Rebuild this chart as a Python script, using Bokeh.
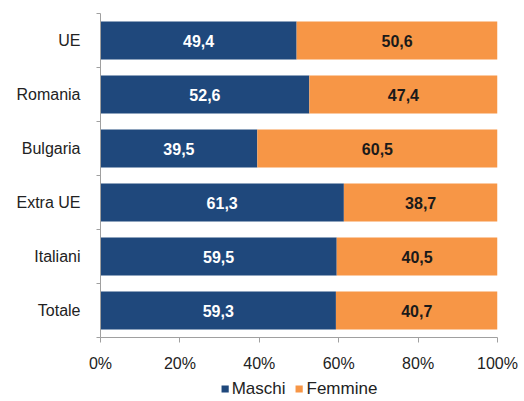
from bokeh.plotting import figure
from bokeh.layouts import column
from bokeh.models import (ColumnDataSource, Range1d, FixedTicker, Legend, LegendItem,
                          PrintfTickFormatter)
from bokeh.core.properties import value
from bokeh.embed import file_html
from bokeh.resources import INLINE

categories = ["UE", "Romania", "Bulgaria", "Extra UE", "Italiani", "Totale"]
maschi = [49.4, 52.6, 39.5, 61.3, 59.5, 59.3]
femmine = [50.6, 47.4, 60.5, 38.7, 40.5, 40.7]
x_ticks = [0, 20, 40, 60, 80, 100]
series = ["Maschi", "Femmine"]

NAVY = "#1f487c"
ORANGE = "#f79646"
FONT = "Liberation Sans"

n = len(categories)
ypos = [n - i - 0.5 for i in range(n)]
fmt = lambda v: f"{v:.1f}".replace(".", ",")

src = ColumnDataSource(dict(
    y=ypos,
    mend=maschi,
    fend=[a + b for a, b in zip(maschi, femmine)],
    mmid=[a / 2 for a in maschi],
    fmid=[a + b / 2 for a, b in zip(maschi, femmine)],
    mlab=[fmt(v) for v in maschi],
    flab=[fmt(v) for v in femmine],
    zero=[0] * n,
))

p = figure(width=524, height=372, frame_width=397, frame_height=324,
           output_backend="svg", toolbar_location=None,
           x_range=Range1d(0, 100), y_range=Range1d(0, n),
           min_border_left=100, min_border_right=27, min_border_top=13,
           min_border_bottom=35, outline_line_color=None)
p.xgrid.visible = False
p.ygrid.visible = False

p.hbar(y="y", left="zero", right="mend", height=0.7, source=src,
       fill_color=NAVY, line_color=None)
p.hbar(y="y", left="mend", right="fend", height=0.7, source=src,
       fill_color=ORANGE, line_color=None)

p.text(x="mmid", y="y", text="mlab", source=src, text_align="center",
       text_baseline="middle", text_color="white", text_font=value(FONT),
       text_font_size="16px", text_font_style="bold")
p.text(x="fmid", y="y", text="flab", source=src, text_align="center",
       text_baseline="middle", text_color="#1a1a1a", text_font=value(FONT),
       text_font_size="16px", text_font_style="bold")

yax = p.yaxis[0]
yax.ticker = FixedTicker(ticks=ypos, minor_ticks=list(range(n + 1)))
yax.major_label_overrides = {y: c for y, c in zip(ypos, categories)}
yax.major_tick_out = 0
yax.major_tick_in = 0
yax.minor_tick_out = 4
yax.minor_tick_in = 0
yax.minor_tick_line_color = "#a0a0a0"
yax.axis_line_color = "#a0a0a0"
yax.major_label_standoff = 16
yax.major_label_text_font = FONT
yax.major_label_text_font_size = "16px"
yax.major_label_text_color = "#222222"

xax = p.xaxis[0]
xax.ticker = FixedTicker(ticks=x_ticks, minor_ticks=[])
xax.formatter = PrintfTickFormatter(format="%d%%")
xax.major_tick_out = 5
xax.major_tick_in = 0
xax.major_tick_line_color = "#a0a0a0"
xax.axis_line_color = "#a0a0a0"
xax.minor_tick_line_color = None
xax.major_label_standoff = 12
xax.major_label_text_font = FONT
xax.major_label_text_font_size = "16px"
xax.major_label_text_color = "#222222"

# legend strip below the chart
pl = figure(width=524, height=29, frame_width=397, frame_height=29,
            output_backend="svg", toolbar_location=None,
            x_range=Range1d(0, 100), y_range=Range1d(0, n),
            min_border_left=100, min_border_right=27, min_border_top=0,
            min_border_bottom=0, outline_line_color=None)
pl.axis.visible = False
pl.grid.visible = False
l1 = pl.hbar(y="y", left="zero", right="mend", height=0.7, source=src,
             fill_color=NAVY, line_color=None, visible=False)
l2 = pl.hbar(y="y", left="mend", right="fend", height=0.7, source=src,
             fill_color=ORANGE, line_color=None, visible=False)

legend = Legend(items=[LegendItem(label=series[0], renderers=[l1]),
                       LegendItem(label=series[1], renderers=[l2])],
                orientation="horizontal", location="center",
                glyph_width=9, glyph_height=9, label_standoff=3, spacing=9,
                padding=0, margin=0, border_line_color=None,
                background_fill_alpha=0, inactive_fill_alpha=0,
                label_text_font=FONT, label_text_font_size="17px",
                label_text_color="#222222")
pl.add_layout(legend, "center")

layout = column(p, pl, spacing=0)
open("out.html", "w").write(file_html(layout, INLINE))
